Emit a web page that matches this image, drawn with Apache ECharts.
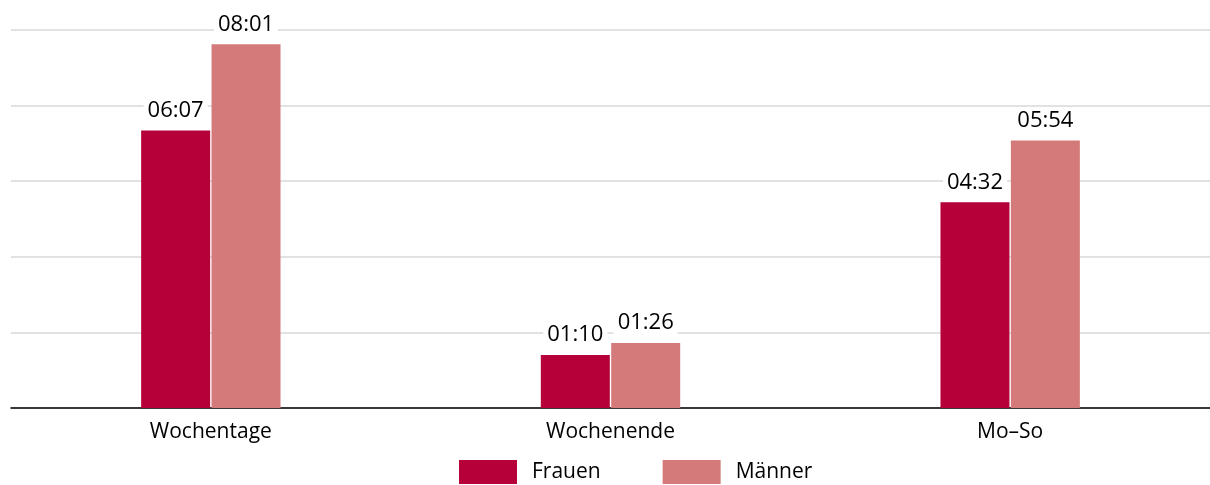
<!DOCTYPE html>
<html>
<head>
<meta charset="utf-8">
<script src="https://cdn.jsdelivr.net/npm/echarts@6/dist/echarts.min.js"></script>
<style>
	html, body { margin: 0; padding: 0; background: #fff; }
	#chart { width: 1210px; height: 485px; }
</style>
</head>
<body>
<div id="chart"></div>
<script>
// Kategorien und Werte (in Minuten)
var categories = ['Wochentage', 'Wochenende', 'Mo–So'];
var seriesNames = ['Frauen', 'Männer'];
var frauen = [367, 70, 272];   // 06:07, 01:10, 04:32
var maenner = [481, 86, 354];  // 08:01, 01:26, 05:54

function fmtTime(min) {
	var h = Math.floor(min / 60), m = min % 60;
	return (h < 10 ? '0' : '') + h + ':' + (m < 10 ? '0' : '') + m;
}

var myChart = echarts.init(document.getElementById('chart'));

var labelStyle = {
	show: true,
	position: 'top',
	distance: 9,
	formatter: function (p) { return fmtTime(p.value); },
	color: '#000',
	fontFamily: 'Open Sans',
	fontSize: 22,
	backgroundColor: '#fff',
	padding: [0, 4, 0, 4]
};

var option = {
	animation: false,
	legend: {
		top: 455,
		left: 454,
		data: seriesNames,
		icon: 'rect',
		itemWidth: 58,
		itemHeight: 24,
		itemGap: 62,
		textStyle: {
			color: '#000',
			fontFamily: 'Open Sans',
			fontSize: 21,
			padding: [0, 0, 0, 10]
		}
	},
	grid: {
		left: 11,
		right: 0,
		top: 30,
		bottom: 77
	},
	xAxis: {
		type: 'category',
		data: categories,
		axisTick: { show: false },
		axisLine: { lineStyle: { color: '#000', width: 1.5 } },
		axisLabel: {
			color: '#000',
			fontFamily: 'Open Sans',
			fontSize: 21,
			margin: 14
		}
	},
	yAxis: {
		type: 'value',
		min: 0,
		max: 500,
		interval: 100,
		axisLabel: { show: false },
		axisLine: { show: false },
		axisTick: { show: false },
		splitLine: { lineStyle: { color: '#d9d9d9', width: 1.5 } }
	},
	series: [
		{
			name: seriesNames[0],
			type: 'bar',
			barWidth: 69,
			barGap: '2%',
			itemStyle: { color: '#b5003a' },
			label: labelStyle,
			data: frauen
		},
		{
			name: seriesNames[1],
			type: 'bar',
			barWidth: 69,
			barGap: '2%',
			itemStyle: { color: '#d57a7a' },
			label: labelStyle,
			data: maenner
		}
	]
};

myChart.setOption(option);
window.addEventListener("resize", function () {
	myChart.resize();
});
</script>
</body>
</html>
